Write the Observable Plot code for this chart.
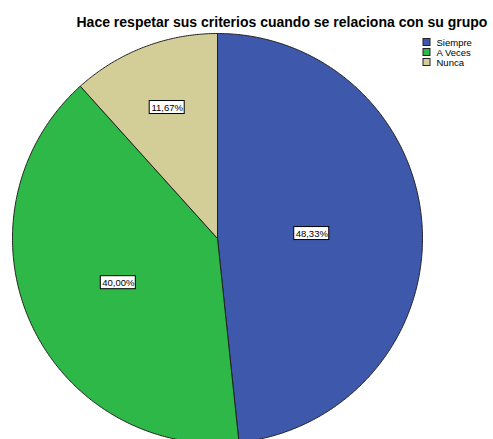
<!DOCTYPE html>
<html>
<head>
<meta charset="utf-8">
<script src="https://cdn.jsdelivr.net/npm/d3@7"></script>
<script src="https://cdn.jsdelivr.net/npm/@observablehq/plot@0.6"></script>
<style>
  html, body { margin: 0; padding: 0; background: #fff; }
  #chart svg { display: block; }
</style>
</head>
<body>
<div id="chart"></div>
<script>
const title = "Hace respetar sus criterios cuando se relaciona con su grupo";
const categories = ["Siempre", "A Veces", "Nunca"];
const percents = [48.33, 40.00, 11.67];
const labels = ["48,33%", "40,00%", "11,67%"];
const colors = ["#3e58ac", "#2eb848", "#d3ce97"];

const R = 205;
const font = "'Liberation Sans', Arial, sans-serif";
const total = d3.sum(percents);

// slice polygons
const slices = [];
const centroids = [];
let acc = 0;
percents.forEach((p, i) => {
  const a0 = acc / total * 2 * Math.PI;
  acc += p;
  const a1 = acc / total * 2 * Math.PI;
  const n = Math.max(8, Math.ceil((a1 - a0) / (Math.PI / 360)));
  slices.push({cat: categories[i], x: 0, y: 0});
  for (let k = 0; k <= n; k++) {
    const a = a0 + (a1 - a0) * k / n;
    slices.push({cat: categories[i], x: R * Math.sin(a), y: -R * Math.cos(a)});
  }
  slices.push({cat: categories[i], x: 0, y: 0});
  const half = (a1 - a0) / 2, mid = (a0 + a1) / 2;
  const d = 1.05 * 2 * R * Math.sin(half) / (3 * half);
  centroids.push({cat: categories[i], label: labels[i], x: d * Math.sin(mid), y: -d * Math.cos(mid)});
});

const boxW = 35, boxH = 13;
const legend = categories.map((c, i) => ({cat: c, y: -196 + i * 10}));

const chart = Plot.plot({
  width: 493,
  height: 439,
  margin: 0,
  style: {background: "#fff", fontFamily: font},
  x: {domain: [-R, R], range: [12, 422], axis: null},
  y: {domain: [-R, R], range: [33, 443], axis: null},
  color: {domain: categories, range: colors},
  marks: [
    Plot.line(slices, {x: "x", y: "y", z: "cat", fill: "cat", stroke: "#222", strokeWidth: 1, curve: "linear"}),
    Plot.rect(centroids, {x1: d => d.x - boxW / 2, x2: d => d.x + boxW / 2, y1: d => d.y - boxH / 2, y2: d => d.y + boxH / 2, fill: "#fff", stroke: "#000", strokeWidth: 1}),
    Plot.text(centroids, {x: "x", y: "y", text: "label", fill: "#000", fontSize: 9.5, fontFamily: font}),
    Plot.text([title], {x: -141, y: -215.5, text: d => d, textAnchor: "start", fontSize: 14, fontWeight: "bold", fill: "#000", fontFamily: font}),
    Plot.rect(legend, {x1: 206, x2: 213, y1: d => d.y - 3.5, y2: d => d.y + 3.5, fill: "cat", stroke: "#222", strokeWidth: 1}),
    Plot.text(legend, {x: 219, y: "y", text: "cat", textAnchor: "start", fontSize: 9.5, fill: "#000", fontFamily: font})
  ]
});
document.getElementById("chart").appendChild(chart);
</script>
</body>
</html>
